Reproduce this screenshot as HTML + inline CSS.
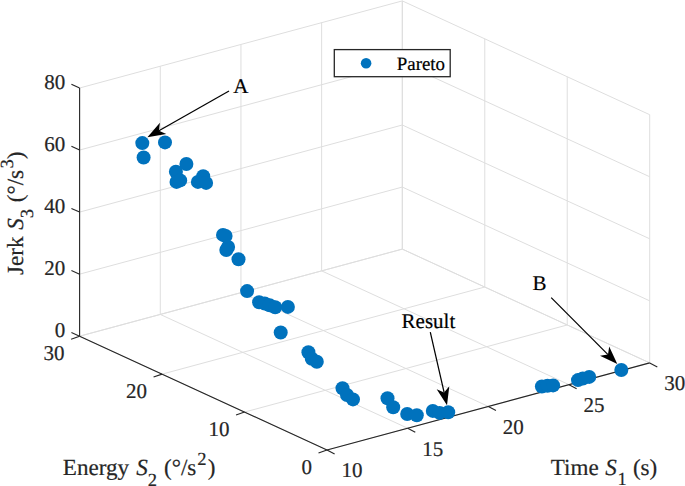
<!DOCTYPE html>
<html><head><meta charset="utf-8"><style>
html,body{margin:0;padding:0;background:#fff;overflow:hidden}
svg{display:block}
text{font-family:"Liberation Serif",serif;text-rendering:geometricPrecision;stroke:currentColor;stroke-width:0.2px}
</style></head><body>
<svg width="685" height="486" viewBox="0 0 685 486">
<rect width="685" height="486" fill="#fff"/>
<line x1="327.00" y1="450.00" x2="79.60" y2="336.20" stroke="#dedede" stroke-width="1.0" />
<line x1="407.68" y1="428.23" x2="160.28" y2="314.43" stroke="#dedede" stroke-width="1.0" />
<line x1="488.35" y1="406.45" x2="240.95" y2="292.65" stroke="#dedede" stroke-width="1.0" />
<line x1="569.03" y1="384.67" x2="321.63" y2="270.87" stroke="#dedede" stroke-width="1.0" />
<line x1="649.70" y1="362.90" x2="402.30" y2="249.10" stroke="#dedede" stroke-width="1.0" />
<line x1="327.00" y1="450.00" x2="649.70" y2="362.90" stroke="#dedede" stroke-width="1.0" />
<line x1="244.53" y1="412.07" x2="567.23" y2="324.97" stroke="#dedede" stroke-width="1.0" />
<line x1="162.07" y1="374.13" x2="484.77" y2="287.03" stroke="#dedede" stroke-width="1.0" />
<line x1="79.60" y1="336.20" x2="402.30" y2="249.10" stroke="#dedede" stroke-width="1.0" />
<line x1="79.60" y1="336.20" x2="79.60" y2="88.00" stroke="#dedede" stroke-width="1.0" />
<line x1="160.28" y1="314.43" x2="160.28" y2="66.23" stroke="#dedede" stroke-width="1.0" />
<line x1="240.95" y1="292.65" x2="240.95" y2="44.45" stroke="#dedede" stroke-width="1.0" />
<line x1="321.63" y1="270.87" x2="321.63" y2="22.67" stroke="#dedede" stroke-width="1.0" />
<line x1="402.30" y1="249.10" x2="402.30" y2="0.90" stroke="#dedede" stroke-width="1.0" />
<line x1="79.60" y1="336.20" x2="402.30" y2="249.10" stroke="#dedede" stroke-width="1.0" />
<line x1="79.60" y1="274.15" x2="402.30" y2="187.05" stroke="#dedede" stroke-width="1.0" />
<line x1="79.60" y1="212.10" x2="402.30" y2="125.00" stroke="#dedede" stroke-width="1.0" />
<line x1="79.60" y1="150.05" x2="402.30" y2="62.95" stroke="#dedede" stroke-width="1.0" />
<line x1="79.60" y1="88.00" x2="402.30" y2="0.90" stroke="#dedede" stroke-width="1.0" />
<line x1="649.70" y1="362.90" x2="649.70" y2="114.70" stroke="#dedede" stroke-width="1.0" />
<line x1="567.23" y1="324.97" x2="567.23" y2="76.77" stroke="#dedede" stroke-width="1.0" />
<line x1="484.77" y1="287.03" x2="484.77" y2="38.83" stroke="#dedede" stroke-width="1.0" />
<line x1="402.30" y1="249.10" x2="402.30" y2="0.90" stroke="#dedede" stroke-width="1.0" />
<line x1="649.70" y1="362.90" x2="402.30" y2="249.10" stroke="#dedede" stroke-width="1.0" />
<line x1="649.70" y1="300.85" x2="402.30" y2="187.05" stroke="#dedede" stroke-width="1.0" />
<line x1="649.70" y1="238.80" x2="402.30" y2="125.00" stroke="#dedede" stroke-width="1.0" />
<line x1="649.70" y1="176.75" x2="402.30" y2="62.95" stroke="#dedede" stroke-width="1.0" />
<line x1="649.70" y1="114.70" x2="402.30" y2="0.90" stroke="#dedede" stroke-width="1.0" />
<line x1="327.00" y1="450.00" x2="649.70" y2="362.90" stroke="#262626" stroke-width="1.1" />
<line x1="327.00" y1="450.00" x2="79.60" y2="336.20" stroke="#262626" stroke-width="1.1" />
<line x1="79.60" y1="336.20" x2="79.60" y2="88.00" stroke="#262626" stroke-width="1.1" />
<line x1="327.00" y1="450.00" x2="334.60" y2="454.10" stroke="#262626" stroke-width="1.1" />
<line x1="407.68" y1="428.23" x2="415.28" y2="432.33" stroke="#262626" stroke-width="1.1" />
<line x1="488.35" y1="406.45" x2="495.95" y2="410.55" stroke="#262626" stroke-width="1.1" />
<line x1="569.03" y1="384.67" x2="576.63" y2="388.77" stroke="#262626" stroke-width="1.1" />
<line x1="649.70" y1="362.90" x2="657.30" y2="367.00" stroke="#262626" stroke-width="1.1" />
<line x1="327.00" y1="450.00" x2="318.50" y2="452.95" stroke="#262626" stroke-width="1.1" />
<line x1="244.53" y1="412.07" x2="236.03" y2="415.02" stroke="#262626" stroke-width="1.1" />
<line x1="162.07" y1="374.13" x2="153.57" y2="377.08" stroke="#262626" stroke-width="1.1" />
<line x1="79.60" y1="336.20" x2="71.10" y2="339.15" stroke="#262626" stroke-width="1.1" />
<line x1="79.60" y1="336.20" x2="71.40" y2="332.50" stroke="#262626" stroke-width="1.1" />
<line x1="79.60" y1="274.15" x2="71.40" y2="270.45" stroke="#262626" stroke-width="1.1" />
<line x1="79.60" y1="212.10" x2="71.40" y2="208.40" stroke="#262626" stroke-width="1.1" />
<line x1="79.60" y1="150.05" x2="71.40" y2="146.35" stroke="#262626" stroke-width="1.1" />
<line x1="79.60" y1="88.00" x2="71.40" y2="84.30" stroke="#262626" stroke-width="1.1" />
<circle cx="142.3" cy="143.1" r="7.0" fill="#0072bd"/>
<circle cx="165.0" cy="142.4" r="7.0" fill="#0072bd"/>
<circle cx="143.6" cy="157.5" r="7.0" fill="#0072bd"/>
<circle cx="186.4" cy="164.0" r="7.0" fill="#0072bd"/>
<circle cx="175.9" cy="171.8" r="7.0" fill="#0072bd"/>
<circle cx="176.5" cy="181.9" r="7.0" fill="#0072bd"/>
<circle cx="180.2" cy="180.4" r="7.0" fill="#0072bd"/>
<circle cx="203.2" cy="176.3" r="7.0" fill="#0072bd"/>
<circle cx="197.9" cy="181.9" r="7.0" fill="#0072bd"/>
<circle cx="206.1" cy="182.9" r="7.0" fill="#0072bd"/>
<circle cx="223.0" cy="234.9" r="7.0" fill="#0072bd"/>
<circle cx="225.6" cy="235.9" r="7.0" fill="#0072bd"/>
<circle cx="228.1" cy="247.0" r="7.0" fill="#0072bd"/>
<circle cx="226.3" cy="250.0" r="7.0" fill="#0072bd"/>
<circle cx="238.5" cy="259.2" r="7.0" fill="#0072bd"/>
<circle cx="247.1" cy="291.1" r="7.0" fill="#0072bd"/>
<circle cx="259.1" cy="302.2" r="7.0" fill="#0072bd"/>
<circle cx="264.7" cy="303.5" r="7.0" fill="#0072bd"/>
<circle cx="269.6" cy="305.3" r="7.0" fill="#0072bd"/>
<circle cx="275.2" cy="307.2" r="7.0" fill="#0072bd"/>
<circle cx="287.9" cy="306.9" r="7.0" fill="#0072bd"/>
<circle cx="280.7" cy="332.5" r="7.0" fill="#0072bd"/>
<circle cx="308.4" cy="352.3" r="7.0" fill="#0072bd"/>
<circle cx="311.8" cy="358.8" r="7.0" fill="#0072bd"/>
<circle cx="316.8" cy="361.8" r="7.0" fill="#0072bd"/>
<circle cx="342.5" cy="388.2" r="7.0" fill="#0072bd"/>
<circle cx="347.0" cy="395.0" r="7.0" fill="#0072bd"/>
<circle cx="353.0" cy="399.4" r="7.0" fill="#0072bd"/>
<circle cx="387.5" cy="398.3" r="7.0" fill="#0072bd"/>
<circle cx="393.2" cy="407.2" r="7.0" fill="#0072bd"/>
<circle cx="407.2" cy="414.0" r="7.0" fill="#0072bd"/>
<circle cx="416.8" cy="415.3" r="7.0" fill="#0072bd"/>
<circle cx="432.8" cy="410.9" r="7.0" fill="#0072bd"/>
<circle cx="439.6" cy="412.9" r="7.0" fill="#0072bd"/>
<circle cx="448.2" cy="412.2" r="7.0" fill="#0072bd"/>
<circle cx="541.9" cy="386.5" r="7.0" fill="#0072bd"/>
<circle cx="547.5" cy="385.7" r="7.0" fill="#0072bd"/>
<circle cx="553.1" cy="385.4" r="7.0" fill="#0072bd"/>
<circle cx="578.0" cy="380.1" r="7.0" fill="#0072bd"/>
<circle cx="582.8" cy="378.5" r="7.0" fill="#0072bd"/>
<circle cx="589.2" cy="376.9" r="7.0" fill="#0072bd"/>
<circle cx="621.3" cy="370.0" r="7.0" fill="#0072bd"/>
<rect x="334.3" y="49.6" width="115.9" height="27.1" fill="#fff" stroke="#262626" stroke-width="1.3"/>
<circle cx="366.1" cy="63.3" r="5.3" fill="#0072bd"/>
<text x="54.80" y="337.20" font-size="21.0" text-anchor="start" fill="#262626" color="#262626" >0</text><text x="44.30" y="275.15" font-size="21.0" text-anchor="start" fill="#262626" color="#262626" >20</text><text x="44.30" y="213.10" font-size="21.0" text-anchor="start" fill="#262626" color="#262626" >40</text><text x="44.30" y="151.05" font-size="21.0" text-anchor="start" fill="#262626" color="#262626" >60</text><text x="44.30" y="89.00" font-size="21.0" text-anchor="start" fill="#262626" color="#262626" >80</text><text x="301.50" y="473.90" font-size="21.0" text-anchor="start" fill="#262626" color="#262626" >0</text><text x="208.53" y="435.97" font-size="21.0" text-anchor="start" fill="#262626" color="#262626" >10</text><text x="126.06" y="398.03" font-size="21.0" text-anchor="start" fill="#262626" color="#262626" >20</text><text x="43.60" y="360.10" font-size="21.0" text-anchor="start" fill="#262626" color="#262626" >30</text><text x="341.50" y="477.30" font-size="21.0" text-anchor="start" fill="#262626" color="#262626" >10</text><text x="422.18" y="455.53" font-size="21.0" text-anchor="start" fill="#262626" color="#262626" >15</text><text x="502.85" y="433.75" font-size="21.0" text-anchor="start" fill="#262626" color="#262626" >20</text><text x="583.53" y="411.97" font-size="21.0" text-anchor="start" fill="#262626" color="#262626" >25</text><text x="664.20" y="390.20" font-size="21.0" text-anchor="start" fill="#262626" color="#262626" >30</text><text x="62.83" y="475.00" font-size="23.1" text-anchor="start" fill="#262626" color="#262626" >Energy</text><text x="136.22" y="475.00" font-size="23.1" text-anchor="start" fill="#262626" color="#262626" font-style="italic" >S</text><text x="147.69" y="485.50" font-size="18.5" text-anchor="start" fill="#262626" color="#262626" >2</text><text x="163.98" y="475.00" font-size="23.1" text-anchor="start" fill="#262626" color="#262626" >(°/s</text><text x="197.29" y="464.60" font-size="18.5" text-anchor="start" fill="#262626" color="#262626" >2</text><text x="207.86" y="475.00" font-size="23.1" text-anchor="start" fill="#262626" color="#262626" >)</text><text x="550.78" y="474.70" font-size="23.1" text-anchor="start" fill="#262626" color="#262626" >Time</text><text x="605.22" y="474.70" font-size="23.1" text-anchor="start" fill="#262626" color="#262626" font-style="italic" >S</text><text x="617.47" y="484.60" font-size="18.5" text-anchor="start" fill="#262626" color="#262626" >1</text><text x="632.88" y="474.70" font-size="23.1" text-anchor="start" fill="#262626" color="#262626" >(s)</text><text x="-274.99" y="22.90" font-size="23.1" text-anchor="start" fill="#262626" color="#262626" transform="rotate(-90)">Jerk</text><text x="-229.68" y="22.90" font-size="23.1" text-anchor="start" fill="#262626" color="#262626" font-style="italic" transform="rotate(-90)">S</text><text x="-218.19" y="33.20" font-size="18.5" text-anchor="start" fill="#262626" color="#262626" transform="rotate(-90)">3</text><text x="-202.22" y="22.90" font-size="23.1" text-anchor="start" fill="#262626" color="#262626" transform="rotate(-90)">(°/s</text><text x="-168.59" y="12.60" font-size="18.5" text-anchor="start" fill="#262626" color="#262626" transform="rotate(-90)">3</text><text x="-159.14" y="22.90" font-size="23.1" text-anchor="start" fill="#262626" color="#262626" transform="rotate(-90)">)</text><text x="233.19" y="92.50" font-size="21.0" text-anchor="start" fill="#000" color="#000" >A</text><text x="532.59" y="290.20" font-size="21.0" text-anchor="start" fill="#000" color="#000" >B</text><text x="401.59" y="328.10" font-size="21.0" text-anchor="start" fill="#000" color="#000" >Result</text><text x="396.75" y="69.80" font-size="18.9" text-anchor="start" fill="#000" color="#000" >Pareto</text>
<line x1="229.0" y1="91.0" x2="158.9" y2="130.7" stroke="#000" stroke-width="1.25"/><polygon points="147.4,137.2 159.9,122.7 158.9,130.7 166.3,134.0" fill="#000"/><line x1="551.2" y1="297.6" x2="608.0" y2="354.6" stroke="#000" stroke-width="1.25"/><polygon points="617.3,363.9 600.0,355.7 608.0,354.6 609.2,346.6" fill="#000"/><line x1="430.3" y1="332.1" x2="444.1" y2="392.4" stroke="#000" stroke-width="1.25"/><polygon points="447.0,405.3 436.7,389.2 444.1,392.4 449.3,386.3" fill="#000"/>
</svg></body></html>
